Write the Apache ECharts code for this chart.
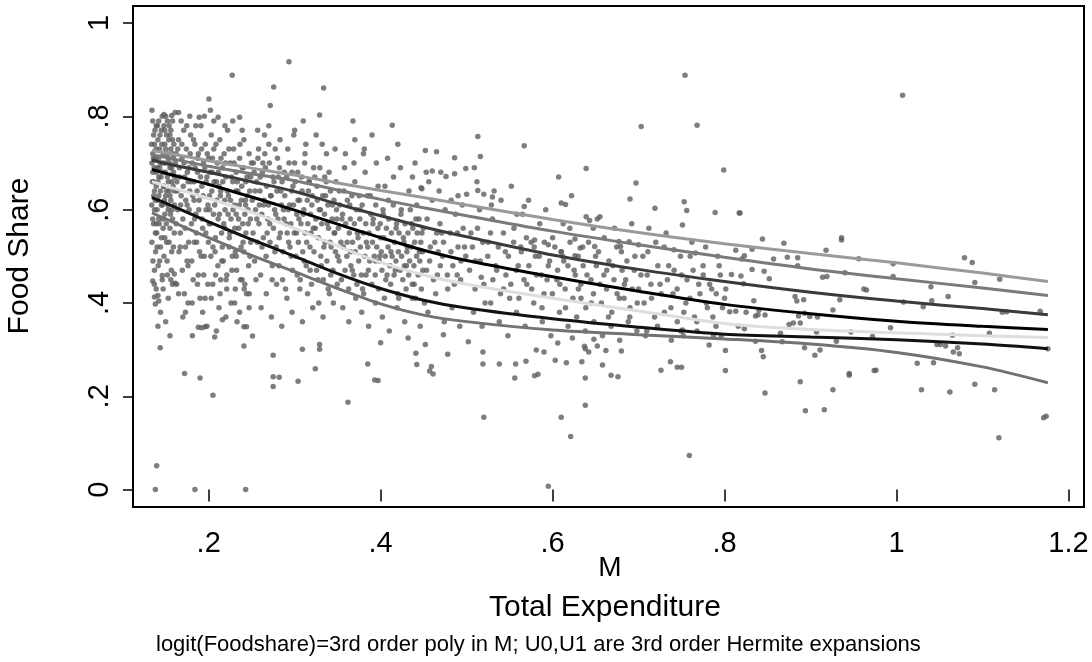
<!DOCTYPE html>
<html>
<head>
<meta charset="utf-8">
<script src="https://cdn.jsdelivr.net/npm/echarts@6/dist/echarts.min.js"></script>
<style>
  html, body { margin: 0; padding: 0; background: #fff; }
  #chart { width: 1092px; height: 662px; }
</style>
</head>
<body>
<div id="chart"></div>
<script>
// tick values
const xTicks = [0.2, 0.4, 0.6, 0.8, 1, 1.2];
const yTicks = [0, 0.2, 0.4, 0.6, 0.8, 1];

// fitted quantile curves
const curveX = [0.134, 0.15, 0.2, 0.25, 0.3, 0.35, 0.4, 0.45, 0.5, 0.6, 0.7, 0.8, 0.9, 1.0, 1.1, 1.176];
const q1 = [0.727, 0.722, 0.705, 0.689, 0.674, 0.657, 0.641, 0.626, 0.610, 0.579, 0.551, 0.527, 0.506, 0.486, 0.464, 0.446];
const q2 = [0.718, 0.712, 0.693, 0.677, 0.662, 0.642, 0.622, 0.604, 0.587, 0.554, 0.525, 0.498, 0.473, 0.452, 0.432, 0.416];
const q3 = [0.706, 0.699, 0.680, 0.660, 0.639, 0.612, 0.587, 0.563, 0.542, 0.503, 0.472, 0.446, 0.423, 0.404, 0.388, 0.375];
const q4 = [0.686, 0.678, 0.654, 0.627, 0.599, 0.569, 0.540, 0.513, 0.491, 0.456, 0.425, 0.397, 0.377, 0.361, 0.350, 0.343];
const q5 = [0.660, 0.651, 0.624, 0.594, 0.560, 0.522, 0.487, 0.460, 0.440, 0.410, 0.383, 0.356, 0.343, 0.336, 0.330, 0.326];
const q6 = [0.626, 0.614, 0.574, 0.536, 0.500, 0.463, 0.431, 0.406, 0.389, 0.366, 0.348, 0.333, 0.327, 0.321, 0.312, 0.302];
const q7 = [0.593, 0.580, 0.540, 0.502, 0.467, 0.431, 0.398, 0.374, 0.360, 0.342, 0.332, 0.323, 0.312, 0.294, 0.263, 0.229];

// observations, M vs food share (grouped by M band)
const ptsA = [
  [.134,.813],[.135,.447],[.137,.413],[.138,.398],[.1395,.051],[.138,0],[.141,.416],[.142,.404],[.1436,.304],
  [.146,.459],[.148,.804],[.15,.80],[.156,.450],[.157,.802],[.161,.442],[.160,.462],[.161,.808],[.165,.808],
  [.134,.70],[.135,.68],[.135,.72],[.136,.66],[.136,.63],[.137,.74],[.137,.60],[.138,.55],[.138,.71],[.139,.57],
  [.139,.65],[.140,.69],[.140,.52],[.141,.62],[.141,.75],[.142,.58],[.142,.67],[.143,.73],[.143,.49],[.144,.64],
  [.144,.70],[.145,.54],[.145,.77],[.146,.61],[.146,.68],[.147,.72],[.147,.56],[.148,.65],[.148,.50],[.149,.74],
  [.149,.59],[.150,.70],[.150,.63],[.151,.76],[.151,.53],[.152,.67],[.152,.46],[.153,.71],[.153,.60],[.154,.78],
  [.154,.64],[.155,.56],[.155,.69],[.156,.73],[.156,.62],[.157,.51],[.157,.66],[.158,.75],[.158,.58],[.159,.68],
  [.159,.71],[.160,.55],[.160,.64],[.135,.58],[.137,.47],[.139,.43],[.141,.35],[.144,.38],[.147,.43],[.150,.36],
  [.153,.41],[.155,.33],[.158,.44],[.136,.76],[.139,.78],[.142,.79],[.146,.80],[.149,.77],[.152,.79],[.155,.76],[.158,.79],
  [.1335,.74],[.1338,.61],[.134,.53],[.1345,.66],[.135,.79],[.1352,.49],[.1357,.71],[.136,.57],[.1365,.69],[.1368,.44],
  [.137,.64],[.1375,.77],[.138,.62],[.1383,.51],[.1388,.73],[.139,.68],[.1396,.55],[.14,.60],[.1404,.78],[.141,.66],
  [.1413,.48],[.1418,.71],[.142,.63],[.1425,.57],[.143,.69],[.1434,.76],[.144,.52],[.1445,.67],[.145,.61],[.1455,.74],
  [.146,.45],[.1466,.70],[.147,.58],[.1475,.65],[.148,.78],[.1486,.62],[.149,.54],[.1495,.68],[.150,.73],[.1507,.57],
  [.151,.64],[.1517,.49],[.152,.72],[.1525,.61],[.153,.66],[.1536,.75],[.154,.53],[.1545,.70],[.155,.63],[.1556,.59],
  [.156,.77],[.1566,.47],[.157,.69],[.1576,.60],[.158,.72],[.1586,.65],[.159,.52],[.1595,.74],[.1600,.61],[.1604,.67]
];
const ptsB = [
  [.172,.249],[.173,.380],[.188,.348],[.192,.347],[.196,.349],[.190,.239],[.184,0],[.189,.798],[.2003,.837],
  [.202,.813],[.205,.202],[.207,.327],[.211,.798],[.216,.364],[.2274,.888],[.236,.798],[.241,.308],[.241,.349],
  [.243,0],[.244,.349],
  [.162,.72],[.163,.66],[.164,.60],[.165,.75],[.166,.69],[.167,.55],[.168,.63],[.169,.71],[.170,.58],[.171,.77],
  [.172,.67],[.173,.52],[.174,.73],[.175,.61],[.176,.48],[.177,.69],[.178,.64],[.179,.76],[.180,.57],[.181,.70],
  [.182,.45],[.183,.66],[.184,.74],[.185,.59],[.186,.53],[.187,.68],[.188,.72],[.189,.62],[.190,.41],[.191,.78],
  [.192,.65],[.193,.56],[.194,.70],[.195,.50],[.196,.74],[.197,.60],[.198,.67],[.199,.44],[.200,.71],[.201,.63],
  [.202,.57],[.203,.76],[.204,.68],[.205,.52],[.206,.73],[.207,.61],[.208,.46],[.209,.66],[.210,.70],[.211,.58],
  [.212,.39],[.213,.75],[.214,.64],[.215,.55],[.216,.69],[.217,.49],[.218,.72],[.219,.60],[.220,.67],[.221,.43],
  [.222,.77],[.223,.63],[.224,.54],[.225,.70],[.226,.58],[.227,.47],[.228,.66],[.229,.73],[.230,.61],[.231,.51],
  [.232,.68],[.233,.36],[.234,.64],[.235,.56],[.236,.71],[.237,.45],[.238,.62],[.239,.69],[.240,.53],[.241,.75],
  [.242,.59],[.243,.66],[.244,.42],[.245,.63],[.246,.57],[.247,.72],[.248,.50],[.249,.67],[.165,.42],[.170,.37],
  [.176,.40],[.181,.33],[.187,.44],[.193,.38],[.198,.35],[.203,.41],[.209,.34],[.214,.45],[.220,.37],[.226,.40],
  [.231,.43],[.236,.38],[.242,.44],[.247,.39],[.168,.79],[.178,.80],[.185,.78],[.195,.80],[.206,.79],[.219,.78],
  [.228,.79],[.239,.77],[.183,.62],[.201,.60],[.219,.56],[.232,.59],[.176,.66],[.212,.65],[.243,.61],
  [.1612,.70],[.1621,.57],[.1633,.64],[.1641,.73],[.1655,.51],[.1662,.67],[.1674,.61],[.1688,.74],[.1693,.47],
  [.1705,.65],[.1713,.70],[.1726,.56],[.1734,.62],[.1745,.78],[.1752,.68],[.1767,.53],[.1773,.60],[.1785,.72],
  [.1796,.66],[.1803,.49],[.1815,.63],[.1824,.75],[.1836,.58],[.1843,.69],[.1857,.55],[.1865,.64],[.1872,.71],
  [.1886,.60],[.1894,.51],[.1905,.67],[.1917,.73],[.1923,.58],[.1936,.63],[.1942,.46],[.1955,.69],[.1967,.55],
  [.1971,.66],[.1984,.72],[.1992,.61],[.2006,.57],[.2013,.68],[.2025,.50],[.2037,.64],[.2044,.71],[.2056,.59],
  [.2063,.66],[.2078,.54],[.2085,.74],[.2094,.62],[.2107,.48],[.2112,.68],[.2125,.59],[.2136,.63],[.2143,.71],
  [.2158,.52],[.2164,.66],[.2176,.57],[.2187,.62],[.2195,.70],[.2203,.45],[.2218,.64],[.2226,.59],[.2235,.73],
  [.2247,.55],[.2254,.62],[.2266,.67],[.2275,.50],[.2283,.60],[.2296,.70],[.2304,.56],[.2317,.64],[.2325,.47],
  [.2333,.66],[.2348,.58],[.2356,.61],[.2364,.74],[.2377,.52],[.2385,.65],[.2396,.57],[.2405,.69],[.2413,.43],
  [.2427,.62],[.2433,.55],[.2446,.67],[.2458,.60],[.2464,.48],[.2478,.64],[.2485,.58],[.2497,.70],[.1628,.44],
  [.1717,.42],[.1808,.40],[.1879,.46],[.1958,.41],[.2047,.44],[.2133,.42],[.2211,.46],[.2302,.40],[.2389,.45],
  [.2472,.42],[.1668,.52],[.1749,.49],[.1833,.53],[.1912,.50],[.1997,.53],[.2074,.51],[.2152,.49],[.2238,.52],
  [.2321,.50],[.2409,.51],[.2488,.53]
];
const ptsC = [
  [.251,.329],[.2716,.823],[.2756,.863],[.275,.221],[.275,.242],[.282,.241],[.275,.288],[.2934,.917],[.304,.232],
  [.309,.301],[.324,.259],[.329,.311],[.329,.301],[.329,.803],[.3337,.861],[.270,.78],[.300,.77],[.31,.79],
  [.252,.70],[.254,.64],[.256,.58],[.258,.73],[.260,.67],[.262,.52],[.264,.61],[.266,.69],[.268,.55],[.270,.74],
  [.272,.63],[.274,.48],[.276,.66],[.278,.59],[.280,.71],[.282,.54],[.284,.64],[.286,.45],[.288,.68],[.290,.57],
  [.292,.73],[.294,.61],[.296,.50],[.298,.65],[.300,.70],[.302,.55],[.304,.62],[.306,.43],[.308,.67],[.310,.59],
  [.312,.72],[.314,.53],[.316,.64],[.318,.47],[.320,.61],[.322,.69],[.324,.56],[.326,.65],[.328,.40],[.330,.60],
  [.332,.74],[.334,.52],[.336,.63],[.338,.57],[.340,.68],[.342,.46],[.344,.61],[.346,.55],[.348,.66],[.350,.50],
  [.255,.45],[.261,.39],[.267,.42],[.273,.37],[.279,.44],[.285,.35],[.291,.41],[.297,.38],[.303,.46],[.309,.36],
  [.315,.42],[.321,.39],[.327,.45],[.333,.37],[.339,.43],[.345,.40],[.257,.77],[.265,.76],[.283,.75],[.299,.76],
  [.313,.74],[.325,.76],[.337,.72],[.347,.73],[.259,.61],[.271,.57],[.277,.51],[.287,.60],[.293,.53],[.305,.58],
  [.311,.49],[.319,.55],[.331,.48],[.341,.53],[.349,.58],[.263,.70],[.281,.67],[.297,.68],[.317,.66],[.335,.67],
  [.2507,.62],[.2516,.55],[.2528,.68],[.2534,.49],[.2545,.60],[.2557,.66],[.2566,.53],[.2573,.71],[.2585,.57],
  [.2596,.64],[.2604,.46],[.2617,.59],[.2625,.68],[.2636,.54],[.2645,.62],[.2653,.72],[.2668,.50],[.2674,.65],
  [.2687,.58],[.2695,.61],[.2706,.70],[.2714,.53],[.2726,.63],[.2738,.45],[.2745,.67],[.2753,.56],[.2767,.60],
  [.2774,.73],[.2785,.52],[.2793,.64],[.2806,.58],[.2817,.48],[.2823,.69],[.2834,.55],[.2846,.61],[.2853,.66],
  [.2865,.51],[.2877,.58],[.2885,.63],[.2894,.43],[.2907,.67],[.2913,.55],[.2926,.60],[.2934,.70],[.2945,.52],
  [.2956,.57],[.2966,.64],[.2974,.47],[.2987,.61],[.2995,.55],[.3006,.66],[.3015,.50],[.3024,.59],[.3036,.68],
  [.3043,.53],[.3057,.62],[.3065,.45],[.3073,.57],[.3086,.64],[.3094,.51],[.3107,.60],[.3116,.70],[.3123,.55],
  [.3135,.48],[.3147,.62],[.3153,.57],[.3166,.66],[.3178,.52],[.3184,.59],[.3196,.44],[.3205,.63],[.3217,.56],
  [.3225,.51],[.3234,.67],[.3246,.58],[.3255,.47],[.3263,.62],[.3277,.54],[.3286,.60],[.3293,.69],[.3304,.50],
  [.3315,.57],[.3326,.63],[.3333,.45],[.3347,.59],[.3354,.53],[.3368,.66],[.3375,.49],[.3386,.61],[.3394,.56],
  [.3405,.42],[.3417,.64],[.3424,.52],[.3436,.58],[.3445,.47],[.3457,.62],[.3466,.55],[.3474,.51],[.3487,.60],[.3495,.44]
];
const ptsD = [
  [.362,.187],[.3678,.790],[.385,.269],[.393,.235],[.397,.234],[.400,.315],[.4135,.781],[.432,.325],[.441,.292],
  [.452,.311],[.442,.268],[.459,.264],[.457,.254],[.461,.248],[.473,.332],[.478,.290],[.452,.727],[.465,.724],
  [.486,.711],[.453,.680],[.460,.683],[.470,.680],[.476,.671],[.486,.677],[.499,.688],[.447,.647],[.448,.645],
  [.490,.630],[.500,.633],[.37,.75],[.39,.76],[.42,.74],[.44,.70],[.38,.72],
  [.352,.64],[.355,.58],[.358,.69],[.361,.53],[.364,.61],[.367,.47],[.370,.66],[.373,.55],[.376,.60],[.379,.43],
  [.382,.68],[.385,.52],[.388,.63],[.391,.57],[.394,.49],[.397,.65],[.400,.54],[.403,.59],[.406,.45],[.409,.62],
  [.412,.51],[.415,.67],[.418,.56],[.421,.41],[.424,.60],[.427,.53],[.430,.48],[.433,.64],[.436,.57],[.439,.44],
  [.442,.61],[.445,.51],[.448,.55],[.451,.40],[.454,.58],[.457,.49],[.460,.62],[.463,.53],[.466,.46],[.469,.57],
  [.472,.50],[.475,.60],[.478,.43],[.481,.55],[.484,.48],[.487,.59],[.490,.52],[.493,.45],[.496,.56],[.499,.50],
  [.356,.39],[.363,.36],[.371,.41],[.378,.38],[.386,.35],[.394,.40],[.402,.37],[.410,.34],[.419,.39],[.428,.36],
  [.437,.41],[.446,.35],[.455,.38],[.464,.42],[.474,.36],[.483,.39],[.492,.35],[.359,.72],[.369,.70],[.381,.73],
  [.395,.70],[.408,.71],[.423,.69],[.437,.67],[.456,.66],[.468,.64],[.482,.62],[.495,.61],[.365,.51],[.383,.46],
  [.399,.50],[.417,.47],[.431,.52],[.449,.47],[.467,.51],[.489,.46],[.375,.63],[.405,.65],[.441,.58],[.471,.55],
  [.3508,.56],[.3517,.49],[.3526,.61],[.3538,.53],[.3544,.45],[.3557,.59],[.3565,.52],[.3573,.64],[.3586,.47],
  [.3594,.57],[.3607,.50],[.3613,.62],[.3628,.43],[.3635,.55],[.3647,.58],[.3654,.48],[.3666,.63],[.3673,.53],
  [.3688,.46],[.3695,.57],[.3706,.51],[.3717,.60],[.3724,.44],[.3737,.54],[.3745,.49],[.3758,.58],[.3764,.52],
  [.3776,.46],[.3785,.61],[.3797,.55],[.3803,.42],[.3816,.50],[.3827,.57],[.3834,.53],[.3846,.63],[.3858,.47],
  [.3865,.55],[.3873,.49],[.3886,.59],[.3897,.44],[.3905,.53],[.3914,.58],[.3926,.50],[.3937,.46],[.3943,.61],
  [.3955,.52],[.3968,.56],[.3976,.43],[.3983,.49],[.3996,.57],[.4007,.51],[.4015,.47],[.4028,.60],[.4036,.54],
  [.4044,.41],[.4053,.50],[.4067,.56],[.4075,.46],[.4086,.52],[.4094,.58],[.4108,.48],[.4116,.44],[.4125,.55],
  [.4133,.50],[.4147,.61],[.4156,.46],[.4163,.53],[.4178,.49],[.4185,.57],[.4197,.42],[.4206,.51],[.4214,.55],
  [.4227,.47],[.4236,.59],[.4244,.50],[.4258,.45],[.4265,.54],[.4277,.48],[.4284,.57],[.4296,.43],[.4305,.51],
  [.4318,.55],[.4326,.46],[.4337,.49],[.4345,.60],[.4356,.52],[.4368,.44],[.4374,.56],[.4387,.48],[.4395,.53],
  [.4406,.41],[.4418,.50],[.4425,.55],[.4437,.46],[.4446,.58],[.4455,.49],[.4467,.53],[.4474,.43],[.4486,.51],
  [.4497,.56],[.4534,.47],[.4578,.52],[.4615,.45],[.4652,.55],[.4694,.48],[.4731,.53],[.4776,.46],[.4818,.51],
  [.4857,.44],[.4893,.55],[.4934,.49],[.4976,.52]
];
const ptsE = [
  [.513,.757],[.567,.737],[.516,.714],[.509,.690],[.639,.688],[.607,.670],[.513,.641],[.520,.633],[.530,.627],
  [.567,.607],[.610,.614],[.615,.611],[.639,.585],[.643,.577],[.655,.585],[.689,.531],[.700,.525],[.677,.532],
  [.679,.521],[.649,.521],[.632,.518],[.626,.537],[.579,.535],[.595,.525],[.610,.510],[.626,.501],
  [.502,.317],[.519,.295],[.519,.269],[.538,.269],[.557,.269],[.569,.275],[.556,.239],[.581,.299],[.590,.295],
  [.603,.277],[.616,.272],[.634,.274],[.579,.244],[.583,.247],[.606,.314],[.623,.325],[.638,.302],[.637,.307],
  [.642,.295],[.652,.308],[.662,.298],[.648,.322],[.638,.239],[.668,.245],[.676,.242],[.658,.267],[.680,.297],
  [.595,.007],[.52,.155],[.61,.155],[.621,.114],[.638,.181],
  [.505,.55],[.510,.49],[.515,.60],[.520,.44],[.525,.53],[.530,.58],[.535,.47],[.540,.62],[.545,.51],[.550,.41],
  [.555,.56],[.560,.48],[.565,.59],[.570,.44],[.575,.53],[.580,.50],[.585,.57],[.590,.42],[.595,.48],[.600,.54],
  [.605,.45],[.610,.51],[.615,.39],[.620,.56],[.625,.47],[.630,.43],[.635,.52],[.640,.46],[.645,.40],[.650,.50],
  [.655,.44],[.660,.54],[.665,.37],[.670,.48],[.675,.42],[.680,.51],[.685,.45],[.690,.39],[.695,.47],[.700,.43],
  [.508,.38],[.518,.35],[.528,.40],[.538,.36],[.548,.33],[.558,.38],[.568,.35],[.578,.40],[.588,.36],[.598,.33],
  [.608,.38],[.618,.35],[.628,.37],[.638,.34],[.648,.36],[.658,.33],[.668,.35],[.678,.32],[.688,.36],[.698,.34],
  [.512,.66],[.532,.64],[.552,.65],[.572,.62],[.592,.60],[.622,.63],[.652,.58],[.672,.56],[.692,.57],[.517,.455],
  [.543,.43],[.563,.52],[.587,.46],[.613,.49],[.633,.41],[.663,.47],[.683,.41],
  [.5034,.47],[.5067,.52],[.5098,.43],[.5126,.56],[.5157,.49],[.5188,.53],[.5214,.40],[.5246,.50],[.5278,.55],
  [.5305,.45],[.5337,.48],[.5369,.52],[.5394,.42],[.5428,.55],[.5457,.46],[.5486,.50],[.5514,.44],[.5547,.53],
  [.5576,.47],[.5608,.41],[.5636,.51],[.5667,.45],[.5695,.54],[.5724,.48],[.5757,.43],[.5786,.52],[.5813,.46],
  [.5845,.50],[.5877,.39],[.5904,.53],[.5936,.45],[.5965,.49],[.5997,.42],[.6026,.52],[.6058,.47],[.6084,.44],
  [.6117,.50],[.6146,.43],[.6178,.48],[.6203,.53],[.6236,.41],[.6264,.46],[.6297,.50],[.6328,.44],[.6355,.48],
  [.6386,.39],[.6417,.53],[.6446,.45],[.6475,.42],[.6508,.48],[.6534,.51],[.6567,.40],[.6596,.46],[.6627,.43],
  [.6655,.49],[.6688,.38],[.6714,.45],[.6745,.52],[.6776,.41],[.6808,.47],[.6835,.44],[.6864,.49],[.6897,.37],
  [.6926,.43],[.6957,.50],[.6984,.40],[.5585,.59],[.6123,.57],[.6473,.56],[.5288,.61]
];
const ptsF = [
  [.703,.778],[.697,.657],[.690,.623],[.753,.617],[.756,.598],[.751,.567],[.719,.603],[.789,.594],[.741,.514],
  [.766,.507],[.726,.256],[.737,.274],[.745,.262],[.750,.262],[.751,.342],[.801,.298],[.801,.255],[.754,.888],
  [.768,.781],[.799,.685],[.759,.073],[.817,.593],
  [.705,.50],[.710,.46],[.715,.41],[.720,.53],[.725,.44],[.730,.38],[.735,.48],[.740,.42],[.745,.36],[.750,.46],
  [.755,.40],[.760,.50],[.765,.37],[.770,.44],[.775,.48],[.780,.39],[.785,.43],[.790,.35],[.795,.46],[.800,.41],
  [.708,.33],[.722,.35],[.738,.32],[.752,.33],[.768,.34],[.782,.31],[.796,.33],[.712,.56],[.732,.55],[.762,.53],
  [.778,.52],[.792,.50],
  [.7027,.46],[.7064,.40],[.7108,.51],[.7143,.44],[.7186,.37],[.7224,.48],[.7262,.42],[.7297,.52],[.7335,.45],
  [.7376,.39],[.7413,.47],[.7448,.43],[.7487,.50],[.7526,.38],[.7563,.45],[.7598,.41],[.7634,.47],[.7677,.36],
  [.7713,.42],[.7752,.46],[.7787,.40],[.7826,.44],[.7864,.37],[.7903,.42],[.7937,.48],[.7976,.39],[.8014,.43],
  [.7095,.34],[.7492,.34],[.7871,.33]
];
const ptsG = [
  [.818,.593],[.844,.537],[.869,.528],[.936,.540],[.936,.535],[.918,.513],[.813,.513],[.823,.501],[.820,.494],
  [.832,.515],[.857,.494],[.873,.498],[.885,.497],[.885,.480],[.956,.495],[.996,.484],[1.079,.497],[1.088,.487],
  [1.120,.451],[1.091,.444],[.996,.457],[.914,.455],[.919,.457],[.940,.465],[.962,.430],[.965,.428],[.808,.461],
  [.819,.458],[.832,.472],[.846,.468],[.852,.452],[.822,.441],[1.040,.435],[1.060,.414],[1.041,.405],[1.031,.392],
  [1.008,.402],[.882,.414],[.884,.404],[.892,.407],[.934,.407],[.834,.405],[1.123,.380],[1.128,.381],[1.167,.382],
  [.926,.385],[.893,.378],[.899,.371],[.908,.370],[.886,.372],[.888,.357],[.875,.354],[.880,.357],[.806,.381],
  [.813,.382],[.825,.380],[.836,.372],[.839,.375],[.847,.374],[.840,.385],[.816,.350],[.823,.345],[.907,.338],
  [.947,.338],[.865,.335],[.993,.347],[.972,.328],[1.065,.331],[1.108,.335],[.930,.318],[.836,.318],[.867,.317],
  [1.047,.311],[1.051,.311],[1.057,.308],[1.071,.304],[1.066,.295],[1.073,.291],[1.176,.302],[.893,.304],
  [.911,.299],[.905,.288],[.843,.298],[.845,.285],[1.024,.271],[1.043,.272],[.974,.255],[.976,.256],[.945,.249],
  [.945,.245],[.888,.231],[1.091,.226],[.847,.207],[.926,.214],[1.029,.214],[1.062,.209],[1.114,.214],[.894,.169],
  [.916,.171],[1.171,.154],[1.174,.157],[1.119,.111],[1.007,.845]
];

const points = [].concat(ptsA, ptsB, ptsC, ptsD, ptsE, ptsF, ptsG);

const FONT = 'Liberation Sans, Arial, Helvetica, sans-serif';
const fmt = v => (Math.abs(v) < 1 && v !== 0 ? String(v).replace(/^0\./, '.') : String(v));

function curve(ys, color, width) {
  return {
    type: 'line',
    data: curveX.map((x, i) => [x, ys[i]]),
    showSymbol: false,
    smooth: 0.3,
    silent: true,
    z: 3,
    lineStyle: { color, width },
  };
}

const chart = echarts.init(document.getElementById('chart'), null, { renderer: 'canvas' });
chart.setOption({
  animation: false,
  backgroundColor: '#fff',
  grid: {
    left: 133, right: 8, top: 6, bottom: 155,
    show: true, borderColor: '#000', borderWidth: 2, backgroundColor: 'transparent',
  },
  xAxis: {
    type: 'value',
    min: 0.112, max: 1.218,
    axisLine: { show: false },
    splitLine: { show: false },
    axisTick: { show: true, length: 12, customValues: xTicks, lineStyle: { color: '#000', width: 1.5 } },
    axisLabel: {
      customValues: xTicks, formatter: fmt, margin: 22,
      fontFamily: FONT, fontSize: 29, color: '#000',
    },
  },
  yAxis: {
    type: 'value',
    min: -0.0373, max: 1.0365,
    axisLine: { show: false },
    splitLine: { show: false },
    axisTick: { show: true, length: 10, customValues: yTicks, lineStyle: { color: '#000', width: 1.5 } },
    axisLabel: {
      customValues: yTicks, formatter: fmt, rotate: 90, margin: 19,
      fontFamily: FONT, fontSize: 29, color: '#000',
    },
  },
  graphic: [
    { type: 'text', x: 35, y: 256, rotation: Math.PI / 2,
      style: { text: 'Food Share', fontFamily: FONT, fontSize: 30, fill: '#000', align: 'center', verticalAlign: 'bottom' } },
    { type: 'text', x: 610, y: 568,
      style: { text: 'M', fontFamily: FONT, fontSize: 28, fill: '#000', align: 'center', verticalAlign: 'middle' } },
    { type: 'text', x: 605, y: 608,
      style: { text: 'Total Expenditure', fontFamily: FONT, fontSize: 30, fill: '#000', align: 'center', verticalAlign: 'middle' } },
    { type: 'text', x: 156, y: 645,
      style: { text: 'logit(Foodshare)=3rd order poly in M; U0,U1 are 3rd order Hermite expansions',
        fontFamily: FONT, fontSize: 22, fill: '#000', align: 'left', verticalAlign: 'middle' } },
  ],
  series: [
    {
      type: 'scatter',
      data: points,
      symbolSize: 5.5,
      silent: true,
      z: 2,
      itemStyle: { color: '#5e5e5e' },
    },
    curve(q1, '#9a9a9a', 3),
    curve(q2, '#7a7a7a', 3),
    curve(q3, '#3a3a3a', 3),
    curve(q4, '#000000', 3),
    curve(q5, '#dedede', 3),
    curve(q6, '#111111', 3),
    curve(q7, '#727272', 3),
  ],
});
</script>
</body>
</html>
